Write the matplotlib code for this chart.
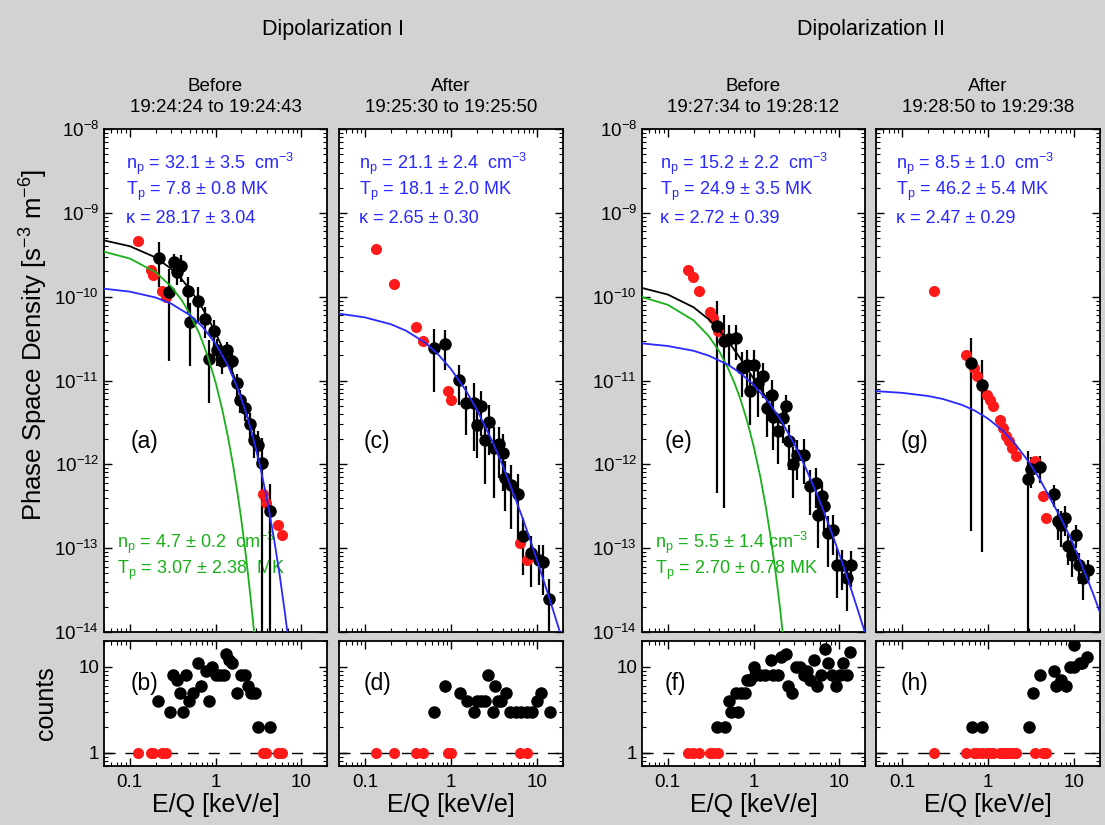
import matplotlib
matplotlib.use('Agg')
import matplotlib.pyplot as plt
import numpy as np
from matplotlib.ticker import FixedLocator, NullFormatter, LogLocator

plt.rcParams['font.family'] = ['Liberation Sans', 'DejaVu Sans']
plt.rcParams['mathtext.default'] = 'regular'

# energies in keV/e, phase space density in s^3 m^-6, rel = relative error

# ---- Dipolarization I, before: (a) psd, (b) counts
a_red_E = [0.125, 0.176, 0.187, 0.235, 0.264, 3.59, 3.9, 5.33, 5.99]
a_red_psd = [4.6e-10, 2.1e-10, 1.8e-10, 1.17e-10, 9.8e-11, 4.4e-13, 3.5e-13, 1.9e-13, 1.45e-13]
a_E = [0.219, 0.289, 0.328, 0.359, 0.393, 0.483, 0.505, 0.632, 0.757, 0.843, 0.948, 1.04,
       1.19, 1.36, 1.55, 1.78, 1.95, 2.23, 2.50, 2.79, 3.13, 3.49, 4.37]
a_psd = [2.9e-10, 1.15e-10, 2.6e-10, 1.95e-10, 2.3e-10, 1.17e-10, 5e-11, 8.9e-11, 5.4e-11,
         1.8e-11, 3.9e-11, 2.3e-11, 1.7e-11, 2.3e-11, 1.7e-11, 9.3e-12, 5.9e-12, 4.7e-12,
         3e-12, 1.96e-12, 1.7e-12, 1.04e-12, 2.8e-13]
a_rel = [0.55, 0.85, 0.25, 0.3, 0.35, 0.45, 0.7, 0.45, 0.4, 0.7, 0.35, 0.35, 0.3, 0.25, 0.3,
         0.3, 0.3, 0.3, 0.35, 0.4, 0.45, 1.0, 1.1]
b_E = [0.216, 0.294, 0.323, 0.356, 0.384, 0.42, 0.452, 0.497, 0.552, 0.62, 0.682, 0.765, 0.842,
       0.91, 1.0, 1.12, 1.25, 1.31, 1.44, 1.57, 1.78, 2.0, 2.19, 2.37, 2.61, 2.92, 3.16, 4.33]
b_cnt = [4, 3, 8, 7, 5, 3, 8, 4, 5, 11, 6, 9, 4, 10, 8, 8, 8, 14, 12, 11, 5, 8, 8, 6, 5, 5, 2, 2]

a_kappa_E = [0.05, 0.1, 0.2, 0.3, 0.5, 0.7, 1.0, 1.4, 1.8, 2.2, 2.7, 3.3, 4.0, 4.8, 5.6, 6.5, 7.3]
a_kappa = [1.245e-10, 1.148e-10, 9.77e-11, 8.32e-11, 6.04e-11, 4.41e-11, 2.76e-11, 1.50e-11,
           8.24e-12, 4.58e-12, 2.25e-12, 9.7e-13, 3.78e-13, 1.32e-13, 4.81e-14, 1.61e-14, 6.3e-15]
a_maxw_E = [0.05, 0.1, 0.2, 0.3, 0.4, 0.5, 0.65, 0.8, 1.0, 1.2, 1.4, 1.6, 1.8, 2.0, 2.2, 2.4,
            2.6, 2.8, 2.9]
a_maxw = [3.44e-10, 2.85e-10, 1.96e-10, 1.34e-10, 9.2e-11, 6.3e-11, 3.58e-11, 2.03e-11, 9.6e-12,
          4.5e-12, 2.1e-12, 9.9e-13, 4.65e-13, 2.19e-13, 1.03e-13, 4.8e-14, 2.27e-14, 1.07e-14,
          7.3e-15]
a_sum_E = [0.05, 0.1, 0.2, 0.3, 0.4, 0.5, 0.65, 0.8, 1.0, 1.2, 1.4, 1.6, 1.8, 2.0, 2.4]
a_sum = [4.69e-10, 4.0e-10, 2.94e-10, 2.17e-10, 1.63e-10, 1.23e-10, 8.35e-11, 5.8e-11, 3.72e-11,
         2.48e-11, 1.71e-11, 1.21e-11, 8.7e-12, 6.37e-12, 3.49e-12]

# ---- Dipolarization I, after: (c) psd, (d) counts
c_red_E = [0.134, 0.22, 0.39, 0.471, 0.914, 1.01, 6.28, 7.71]
c_red_psd = [3.75e-10, 1.43e-10, 4.4e-11, 3.0e-11, 7.4e-12, 5.9e-12, 1.15e-13, 7.2e-14]
c_E = [0.628, 0.843, 1.24, 1.50, 1.87, 2.01, 2.26, 2.45, 2.75, 3.15, 3.6, 4.05, 4.23, 4.93,
       6.05, 6.92, 8.43, 10.5, 11.75, 13.9]
c_psd = [2.45e-11, 2.7e-11, 1.02e-11, 5.4e-12, 5.4e-12, 2.95e-12, 4.9e-12, 1.96e-12, 3.2e-12,
         1.58e-12, 1.73e-12, 1.38e-12, 6.9e-13, 5.7e-13, 4.4e-13, 1.39e-13, 8.7e-14, 7.2e-14,
         6.9e-14, 2.5e-14]
c_rel = [0.7, 0.5, 0.5, 0.58, 0.73, 0.6, 0.55, 0.7, 0.6, 0.75, 0.6, 0.65, 0.6, 0.7, 0.75, 0.66,
         0.6, 0.5, 0.6, 0.7]
d_E = [0.64, 0.86, 1.26, 1.53, 1.83, 1.98, 2.24, 2.51, 2.71, 3.04, 3.28, 3.51, 3.86, 4.37, 4.81,
       5.66, 6.53, 7.54, 8.7, 10.0, 11.0, 14.0]
d_cnt = [3, 6, 5, 4, 3, 4, 4, 4, 8, 3, 6, 4, 4, 5, 3, 3, 3, 3, 3, 4, 5, 3]

c_kappa_E = [0.05, 0.1, 0.2, 0.3, 0.5, 0.7, 1.0, 1.5, 2.0, 3.0, 4.0, 5.5, 7.0, 9.0, 11.0, 14.0,
             17.0, 20.0]
c_kappa = [6.27e-11, 5.66e-11, 4.69e-11, 3.93e-11, 2.83e-11, 2.08e-11, 1.37e-11, 7.5e-12,
           4.49e-12, 1.91e-12, 9.6e-13, 4.1e-13, 2.09e-13, 9.9e-14, 5.3e-14, 2.46e-14, 1.3e-14,
           7.6e-15]

# ---- Dipolarization II, before: (e) psd, (f) counts
e_red_E = [0.174, 0.199, 0.233, 0.311, 0.34, 0.389]
e_red_psd = [2.09e-10, 1.74e-10, 1.17e-10, 6.6e-11, 5.5e-11, 3.9e-11]
e_E = [0.379, 0.453, 0.523, 0.625, 0.728, 0.834, 0.912, 1.0, 1.14, 1.30, 1.43, 1.63, 1.71, 1.95,
       2.19, 2.40, 2.62, 2.87, 3.19, 3.89, 4.57, 5.37, 5.7, 6.25, 6.65, 7.48, 8.56, 9.36, 10.7,
       12.2, 13.6]
e_psd = [4.5e-11, 3.0e-11, 3.1e-11, 3.2e-11, 1.4e-11, 1.55e-11, 7.4e-12, 1.55e-11, 9.3e-12,
         1.12e-11, 4.7e-12, 6.8e-12, 3.7e-12, 2.5e-12, 3.6e-12, 5.0e-12, 1.9e-12, 1.0e-12,
         1.3e-12, 1.3e-12, 5.5e-13, 6.0e-13, 2.5e-13, 4.2e-13, 3.2e-13, 1.5e-13, 1.65e-13,
         6.3e-14, 6.3e-14, 4.4e-14, 6.3e-14]
e_rel = [0.99, 0.99, 0.5, 0.45, 0.55, 0.5, 0.6, 0.5, 0.6, 0.45, 0.55, 0.5, 0.6, 0.6, 0.5, 0.35,
         0.55, 0.6, 0.5, 0.55, 0.55, 0.5, 0.6, 0.45, 0.5, 0.6, 0.5, 0.6, 0.5, 0.6, 0.45]
f_E = [0.378, 0.468, 0.513, 0.547, 0.617, 0.659, 0.722, 0.79, 0.83, 0.91, 1.0, 1.05, 1.2, 1.38,
       1.59, 1.7, 1.92, 2.1, 2.37, 2.53, 2.85, 3.13, 3.5, 3.84, 4.21, 4.62, 5.07, 5.46, 6.1,
       6.88, 7.35, 8.28, 9.1, 10.2, 11.1, 12.2, 13.4]
f_cnt = [2, 2, 4, 3, 5, 3, 5, 5, 7, 7, 10, 8, 8, 8, 12, 8, 8, 13, 14, 6, 5, 10, 10, 8, 9, 7, 12,
         6, 8, 16, 11, 8, 6, 8, 11, 8, 15]

e_kappa_E = [0.05, 0.1, 0.2, 0.3, 0.5, 0.7, 1.0, 1.5, 2.0, 3.0, 4.0, 5.5, 7.0, 9.0, 11.0, 14.0,
             17.0, 20.0]
e_kappa = [2.77e-11, 2.58e-11, 2.26e-11, 1.98e-11, 1.55e-11, 1.23e-11, 8.9e-12, 5.51e-12,
           3.61e-12, 1.74e-12, 9.4e-13, 4.41e-13, 2.35e-13, 1.16e-13, 6.45e-14, 3.08e-14,
           1.66e-14, 9.8e-15]
e_maxw_E = [0.05, 0.1, 0.2, 0.3, 0.4, 0.5, 0.6, 0.7, 0.85, 1.0, 1.2, 1.4, 1.6, 1.8, 2.0, 2.2, 2.3]
e_maxw = [9.9e-11, 8.0e-11, 5.21e-11, 3.39e-11, 2.21e-11, 1.43e-11, 9.3e-12, 6.1e-12, 3.19e-12,
          1.67e-12, 7.1e-13, 3.0e-13, 1.27e-13, 5.4e-14, 2.27e-14, 9.6e-15, 6.3e-15]
e_sum_E = [0.05, 0.1, 0.2, 0.3, 0.4, 0.5, 0.6, 0.7, 0.85, 1.0, 1.2, 1.5]
e_sum = [1.27e-10, 1.06e-10, 7.47e-11, 5.37e-11, 3.96e-11, 2.98e-11, 2.31e-11, 1.84e-11,
         1.36e-11, 1.06e-11, 8.0e-12, 5.7e-12]

# ---- Dipolarization II, after: (g) psd, (h) counts
g_red_E = [0.238, 0.562, 0.684, 0.748, 0.855, 0.962, 1.05, 1.14, 1.38, 1.51, 1.63, 1.75, 1.92,
           2.13, 3.49, 4.3, 4.78]
g_red_psd = [1.17e-10, 2.0e-11, 1.42e-11, 1.12e-11, 8.5e-12, 6.8e-12, 5.9e-12, 5.0e-12, 3.4e-12,
             2.7e-12, 2.2e-12, 1.9e-12, 1.58e-12, 1.26e-12, 1.1e-12, 4.2e-13, 2.3e-13]
g_E = [0.637, 0.855, 2.95, 3.19, 3.99, 5.77, 6.43, 7.08, 7.82, 8.56, 9.36, 10.5, 11.5, 12.6, 14.4]
g_psd = [1.62e-11, 8.9e-12, 6.6e-13, 8.7e-13, 9.3e-13, 4.4e-13, 2.1e-13, 1.9e-13, 2.3e-13,
         1.05e-13, 8.3e-14, 1.45e-13, 6.3e-14, 4.4e-14, 5.5e-14]
g_rel = [0.99, 0.99, 1.2, 0.4, 0.35, 0.3, 0.4, 0.45, 0.4, 0.4, 0.45, 0.3, 0.4, 0.45, 0.3]
h_E = [0.644, 0.859, 3.03, 3.29, 4.0, 5.82, 6.21, 7.14, 7.98, 8.85, 10.0, 10.0, 11.7, 12.5, 14.1]
h_cnt = [2, 2, 2, 5, 8, 9, 6, 7, 6, 10, 18, 10, 11, 11, 13]

g_kappa_E = [0.05, 0.1, 0.2, 0.3, 0.5, 0.7, 1.0, 1.5, 2.0, 3.0, 4.0, 5.5, 7.0, 9.0, 11.0, 14.0,
             17.0, 20.0]
g_kappa = [7.46e-12, 7.13e-12, 6.54e-12, 6.01e-12, 5.11e-12, 4.38e-12, 3.51e-12, 2.50e-12,
           1.83e-12, 1.06e-12, 6.63e-13, 3.62e-13, 2.3e-13, 1.35e-13, 8.3e-14, 4.5e-14, 2.7e-14,
           1.7e-14]

titles = ['Before\n19:24:24 to 19:24:43', 'After\n19:25:30 to 19:25:50',
          'Before\n19:27:34 to 19:28:12', 'After\n19:28:50 to 19:29:38']
kappa_txt = [
    ['n$_p$ = 32.1 ± 3.5  cm$^{-3}$', 'T$_p$ = 7.8 ± 0.8 MK', 'κ = 28.17 ± 3.04'],
    ['n$_p$ = 21.1 ± 2.4  cm$^{-3}$', 'T$_p$ = 18.1 ± 2.0 MK', 'κ = 2.65 ± 0.30'],
    ['n$_p$ = 15.2 ± 2.2  cm$^{-3}$', 'T$_p$ = 24.9 ± 3.5 MK', 'κ = 2.72 ± 0.39'],
    ['n$_p$ = 8.5 ± 1.0  cm$^{-3}$', 'T$_p$ = 46.2 ± 5.4 MK', 'κ = 2.47 ± 0.29'],
]
maxw_txt = [
    ['n$_p$ = 4.7 ± 0.2  cm$^{-3}$', 'T$_p$ = 3.07 ± 2.38  MK'],
    None,
    ['n$_p$ = 5.5 ± 1.4 cm$^{-3}$', 'T$_p$ = 2.70 ± 0.78 MK'],
    None,
]
letters = ['(a)', '(b)', '(c)', '(d)', '(e)', '(f)', '(g)', '(h)']

BLUE = '#2828ff'
GREEN = '#18b018'
RED = '#ff1a1a'
W, H = 1105, 825
cols = [(104, 327), (339, 563), (642, 865), (876, 1100)]

fig = plt.figure(figsize=(W / 100, H / 100), dpi=100, facecolor='#d2d2d2')


def add_ax(x0, x1, y0, y1):
    return fig.add_axes([x0 / W, 1 - y1 / H, (x1 - x0) / W, (y1 - y0) / H])


def style(ax):
    ax.set_xscale('log')
    ax.set_yscale('log')
    ax.set_xlim(0.05, 20)
    ax.tick_params(which='both', direction='in', top=True, right=True, labelsize=13.5)
    ax.tick_params(axis='x', which='both', pad=6)
    ax.tick_params(which='major', length=6, width=1.0)
    ax.tick_params(which='minor', length=3, width=0.8)
    for s in ax.spines.values():
        s.set_linewidth(1.3)


def psd_panel(ax, E, psd, rel, red_E, red_psd):
    psd = np.array(psd)
    rel = np.array(rel)
    lo = psd * np.minimum(rel, 0.9999)
    ax.errorbar(E, psd, yerr=[lo, psd * rel], fmt='o', color='k', ms=8, elinewidth=1.6,
                capsize=0, zorder=2)
    ax.plot(red_E, red_psd, 'o', color=RED, ms=8, mec='none', zorder=2)


psd_data = [
    (a_E, a_psd, a_rel, a_red_E, a_red_psd),
    (c_E, c_psd, c_rel, c_red_E, c_red_psd),
    (e_E, e_psd, e_rel, e_red_E, e_red_psd),
    (g_E, g_psd, g_rel, g_red_E, g_red_psd),
]
cnt_data = [(b_E, b_cnt, a_red_E), (d_E, d_cnt, c_red_E), (f_E, f_cnt, e_red_E),
            (h_E, h_cnt, g_red_E)]
curves = [
    [(a_sum_E, a_sum, 'k'), (a_maxw_E, a_maxw, GREEN), (a_kappa_E, a_kappa, BLUE)],
    [(c_kappa_E, c_kappa, BLUE)],
    [(e_sum_E, e_sum, 'k'), (e_maxw_E, e_maxw, GREEN), (e_kappa_E, e_kappa, BLUE)],
    [(g_kappa_E, g_kappa, BLUE)],
]
letter_x = [0.12, 0.11, 0.1, 0.11]

for i, (x0, x1) in enumerate(cols):
    # top: phase space density
    ax = add_ax(x0, x1, 129, 632)
    style(ax)
    ax.set_ylim(1e-14, 1e-8)
    psd_panel(ax, *psd_data[i])
    for xs, ys, c in curves[i]:
        ax.plot(xs, ys, color=c, lw=1.3, zorder=3)
    ax.tick_params(labelbottom=False, labelleft=(i in (0, 2)))
    ax.set_title(titles[i], fontsize=13.5, pad=12, linespacing=1.3)
    for k, line in enumerate(kappa_txt[i]):
        ax.text(letter_x[i] - 0.02, 0.93 - k * 0.054, line, color=BLUE, fontsize=13,
                transform=ax.transAxes, va='center')
    if maxw_txt[i]:
        for k, line in enumerate(maxw_txt[i]):
            ax.text(0.06, 0.177 - k * 0.054, line, color=GREEN, fontsize=13,
                    transform=ax.transAxes, va='center', zorder=1)
    ax.text(letter_x[i], 0.378, letters[2 * i], fontsize=16.5, transform=ax.transAxes,
            va='center')

    # bottom: counts
    bx = add_ax(x0, x1, 641, 766)
    style(bx)
    bx.set_ylim(0.7, 20)
    E, cnt, red_E = cnt_data[i]
    bx.axhline(1, color='k', lw=1, ls=(0, (8, 7)), zorder=1)
    bx.plot(red_E, np.ones(len(red_E)), 'o', color=RED, ms=8, mec='none', zorder=2)
    bx.plot(E, cnt, 'o', color='k', ms=8, zorder=2)
    bx.yaxis.set_major_locator(FixedLocator([1, 10]))
    bx.yaxis.set_minor_locator(LogLocator(subs=np.arange(2, 10)))
    bx.yaxis.set_minor_formatter(NullFormatter())
    bx.set_yticklabels(['1', '10'])
    bx.set_xticks([0.1, 1, 10])
    bx.set_xticklabels(['0.1', '1', '10'])
    bx.tick_params(labelleft=(i in (0, 2)))
    bx.set_xlabel('E/Q [keV/e]', fontsize=18, labelpad=1)
    bx.text(letter_x[i], 0.66, letters[2 * i + 1], fontsize=16.5, transform=bx.transAxes,
            va='center')

fig.text((104 + 563) / 2 / W, 1 - 30 / H, 'Dipolarization I', fontsize=15.5, ha='center',
         va='center')
fig.text((642 + 1100) / 2 / W, 1 - 30 / H, 'Dipolarization II', fontsize=15.5, ha='center',
         va='center')
fig.text(34 / W, 1 - 345 / H, 'Phase Space Density [s$^{-3}$ m$^{-6}$]', fontsize=18.5,
         rotation=90, ha='center', va='center')
fig.text(46 / W, 1 - 703 / H, 'counts', fontsize=18, rotation=90, ha='center', va='center')

fig.savefig('out.png', dpi=100, facecolor=fig.get_facecolor())
